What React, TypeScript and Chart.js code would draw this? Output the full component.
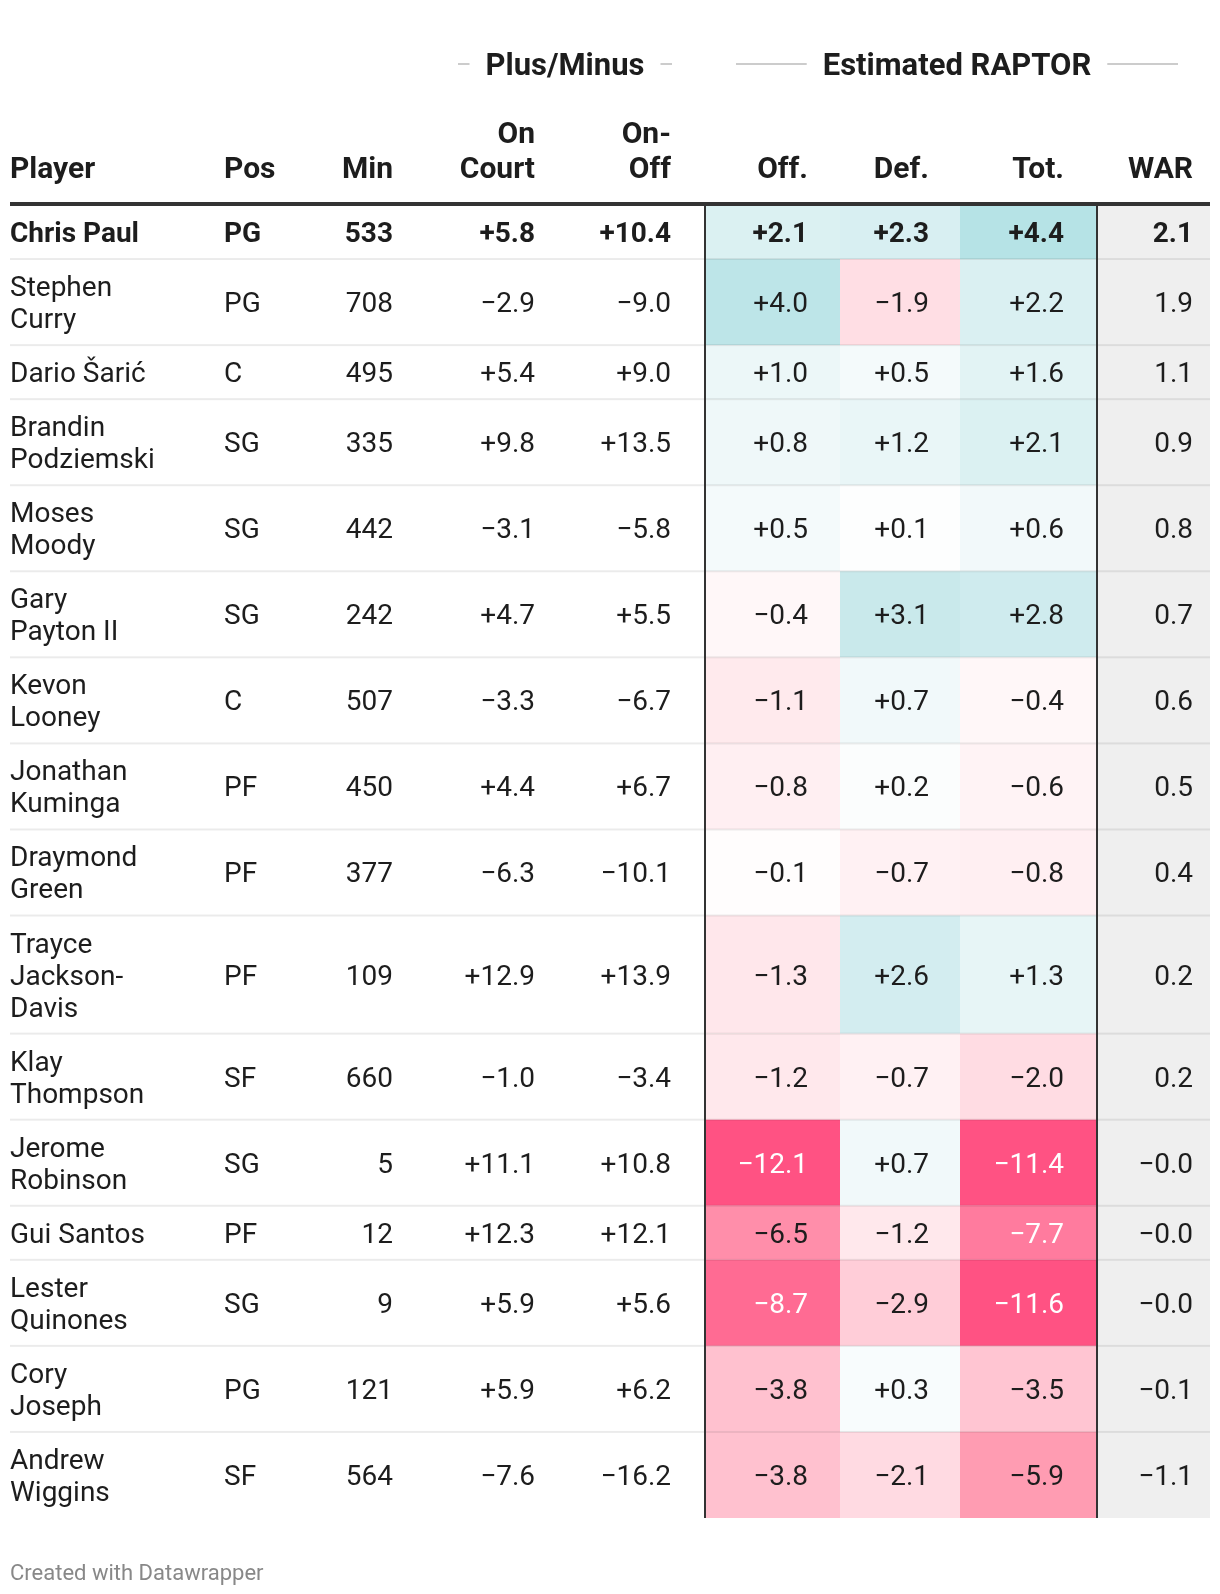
import React, { useEffect, useRef } from 'react';
import { Chart, registerables } from 'chart.js';

Chart.register(...registerables);

// ---------- DATA ----------
const players = [
  'Chris Paul',
  'Stephen\nCurry',
  'Dario Šarić',
  'Brandin\nPodziemski',
  'Moses\nMoody',
  'Gary\nPayton II',
  'Kevon\nLooney',
  'Jonathan\nKuminga',
  'Draymond\nGreen',
  'Trayce\nJackson-\nDavis',
  'Klay\nThompson',
  'Jerome\nRobinson',
  'Gui Santos',
  'Lester\nQuinones',
  'Cory\nJoseph',
  'Andrew\nWiggins',
];
const positions = ['PG', 'PG', 'C', 'SG', 'SG', 'SG', 'C', 'PF', 'PF', 'PF', 'SF', 'SG', 'PF', 'SG', 'PG', 'SF'];
const minutes = [533, 708, 495, 335, 442, 242, 507, 450, 377, 109, 660, 5, 12, 9, 121, 564];
const onCourt = [5.8, -2.9, 5.4, 9.8, -3.1, 4.7, -3.3, 4.4, -6.3, 12.9, -1.0, 11.1, 12.3, 5.9, 5.9, -7.6];
const onOff = [10.4, -9.0, 9.0, 13.5, -5.8, 5.5, -6.7, 6.7, -10.1, 13.9, -3.4, 10.8, 12.1, 5.6, 6.2, -16.2];
const raptorOff = [2.1, 4.0, 1.0, 0.8, 0.5, -0.4, -1.1, -0.8, -0.1, -1.3, -1.2, -12.1, -6.5, -8.7, -3.8, -3.8];
const raptorDef = [2.3, -1.9, 0.5, 1.2, 0.1, 3.1, 0.7, 0.2, -0.7, 2.6, -0.7, 0.7, -1.2, -2.9, 0.3, -2.1];
const raptorTot = [4.4, 2.2, 1.6, 2.1, 0.6, 2.8, -0.4, -0.6, -0.8, 1.3, -2.0, -11.4, -7.7, -11.6, -3.5, -5.9];
const war = [2.1, 1.9, 1.1, 0.9, 0.8, 0.7, 0.6, 0.5, 0.4, 0.2, 0.2, -0.0, -0.0, -0.0, -0.1, -1.1];

const columnHeaders = ['Player', 'Pos', 'Min', 'On\nCourt', 'On-\nOff', 'Off.', 'Def.', 'Tot.', 'WAR'];
const groupLabels = ['Plus/Minus', 'Estimated RAPTOR'];
const footerText = 'Created with Datawrapper';

// ---------- LAYOUT / STYLE ----------
const W = 1220;
const H = 1594;
const TABLE_W = 1200;
const PAD = { left: 10, right: 10, top: 205, bottom: 76 };
const LINE_H = 32;
const ROW_PAD = 22;
const FONT = 'Roboto';
const BODY_SIZE = 28;
const HEAD_SIZE = 30;
const HEAD_LINE_H = 35.5;
const GROUP_SIZE = 31;
const TEXT = '#1d1d1d';
// column anchor positions in table units (x-scale)
const COLS = [
  { anchor: 0, align: 'left' },
  { anchor: 214, align: 'left' },
  { anchor: 383, align: 'right' },
  { anchor: 525, align: 'right' },
  { anchor: 661, align: 'right' },
  { anchor: 798, align: 'right' },
  { anchor: 919, align: 'right' },
  { anchor: 1054, align: 'right' },
  { anchor: 1183, align: 'right' },
];
const HEAT_EDGES = [695, 830, 950, 1087];
const WAR_EDGES = [1087, 1200];
const GROUP_SPANS = [
  [448, 662],
  [726, 1168],
];
const COLOR_STOPS: [number, string][] = [
  [-11.4, '#ff5283'],
  [-8.7, '#ff6b93'],
  [-7.7, '#ff7b9e'],
  [-6.5, '#ff8eaa'],
  [-5.9, '#ff9cb2'],
  [-3.8, '#ffc1cf'],
  [-2.9, '#ffcdd8'],
  [-2.0, '#ffdce3'],
  [-1.2, '#ffe8ec'],
  [-0.7, '#fff1f3'],
  [0, '#ffffff'],
  [0.5, '#f4fafb'],
  [1.0, '#ecf7f8'],
  [1.6, '#e2f3f4'],
  [2.2, '#daf0f2'],
  [2.6, '#d3edf0'],
  [3.1, '#c9e9eb'],
  [4.0, '#bde5e8'],
  [4.4, '#b6e3e6'],
];

function hexToRgb(h: string) {
  const n = parseInt(h.slice(1), 16);
  return [(n >> 16) & 255, (n >> 8) & 255, n & 255];
}
function heatColor(v: number) {
  if (v <= COLOR_STOPS[0][0]) return COLOR_STOPS[0][1];
  const last = COLOR_STOPS[COLOR_STOPS.length - 1];
  if (v >= last[0]) return last[1];
  for (let i = 0; i < COLOR_STOPS.length - 1; i++) {
    const [a, ca] = COLOR_STOPS[i];
    const [b, cb] = COLOR_STOPS[i + 1];
    if (v >= a && v <= b) {
      const t = (v - a) / (b - a);
      const A = hexToRgb(ca);
      const B = hexToRgb(cb);
      const c = A.map((x, k) => Math.round(x + (B[k] - x) * t));
      return `rgb(${c[0]},${c[1]},${c[2]})`;
    }
  }
  return '#ffffff';
}
const isNeg = (v: number) => v < 0 || Object.is(v, -0);
const fmtSigned = (v: number) => (v > 0 ? '+' + v.toFixed(1) : isNeg(v) ? '\u2212' + Math.abs(v).toFixed(1) : v.toFixed(1));
const fmtPlain = (v: number) => (isNeg(v) ? '\u2212' + Math.abs(v).toFixed(1) : v.toFixed(1));

// row geometry in y-scale units
const rowLines = players.map((p) => p.split('\n').length);
const rowStarts: number[] = [];
let acc = 0;
rowLines.forEach((l) => {
  rowStarts.push(acc);
  acc += ROW_PAD + LINE_H * l;
});
const TOTAL = acc;

const tablePlugin = {
  id: 'tablePlugin',
  afterDraw(chart: any) {
    const { ctx } = chart;
    const xs = chart.scales.x;
    const ys = chart.scales.y;
    const px = (u: number) => xs.getPixelForValue(u);
    const py = (u: number) => ys.getPixelForValue(u);
    const top = py(0);
    const bottom = py(TOTAL);
    ctx.save();

    // WAR column background
    ctx.fillStyle = '#efefef';
    ctx.fillRect(px(WAR_EDGES[0]), top, px(WAR_EDGES[1]) - px(WAR_EDGES[0]), bottom - top);

    // heat cells
    const heat = [raptorOff, raptorDef, raptorTot];
    players.forEach((_, i) => {
      const y0 = py(rowStarts[i]);
      const y1 = py(rowStarts[i] + ROW_PAD + LINE_H * rowLines[i]);
      heat.forEach((arr, c) => {
        ctx.fillStyle = heatColor(arr[i]);
        const x0 = px(HEAT_EDGES[c]);
        const x1 = px(HEAT_EDGES[c + 1]);
        ctx.fillRect(x0, y0, x1 - x0, y1 - y0);
      });
    });

    // row separators
    ctx.fillStyle = 'rgba(0,0,0,0.08)';
    for (let i = 1; i < players.length; i++) {
      const yb = py(rowStarts[i]);
      ctx.fillRect(px(0), yb - 1, px(TABLE_W) - px(0), 2);
    }

    // vertical rules
    ctx.fillStyle = '#333333';
    [HEAT_EDGES[0], WAR_EDGES[0]].forEach((e) => {
      ctx.fillRect(px(e) - 1, top - 2, 2, bottom - top + 2);
    });

    // header rule
    ctx.fillRect(px(0), top - 3, px(TABLE_W) - px(0), 4);

    // body text
    ctx.textBaseline = 'alphabetic';
    players.forEach((name, i) => {
      const bold = i === 0;
      const mid = (py(rowStarts[i]) + py(rowStarts[i] + ROW_PAD + LINE_H * rowLines[i])) / 2;
      const cells = [
        name,
        positions[i],
        String(minutes[i]),
        fmtSigned(onCourt[i]),
        fmtSigned(onOff[i]),
        fmtSigned(raptorOff[i]),
        fmtSigned(raptorDef[i]),
        fmtSigned(raptorTot[i]),
        fmtPlain(war[i]),
      ];
      const heatVals = [null, null, null, null, null, raptorOff[i], raptorDef[i], raptorTot[i], null];
      cells.forEach((txt, c) => {
        const col = COLS[c];
        ctx.font = `${bold ? 'bold ' : ''}${BODY_SIZE}px ${FONT}`;
        ctx.textAlign = col.align;
        const hv = heatVals[c];
        ctx.fillStyle = hv !== null && hv <= -7 ? '#ffffff' : TEXT;
        const lines = txt.split('\n');
        lines.forEach((ln, k) => {
          const cy = mid + (k - (lines.length - 1) / 2) * LINE_H;
          ctx.fillText(ln, px(col.anchor), cy + 0.355 * BODY_SIZE);
        });
      });
    });

    // column headers
    ctx.font = `bold ${HEAD_SIZE}px ${FONT}`;
    ctx.fillStyle = TEXT;
    const headBase = top - 27;
    columnHeaders.forEach((h, c) => {
      const col = COLS[c];
      ctx.textAlign = col.align;
      const lines = h.split('\n');
      lines.forEach((ln, k) => {
        ctx.fillText(ln, px(col.anchor), headBase - (lines.length - 1 - k) * HEAD_LINE_H);
      });
    });

    // group headers
    ctx.font = `bold ${GROUP_SIZE}px ${FONT}`;
    ctx.textAlign = 'center';
    const groupBase = top - 130.5;
    const groupLineY = top - 141;
    groupLabels.forEach((g, gi) => {
      const [a, b] = GROUP_SPANS[gi];
      const xa = px(a);
      const xb = px(b);
      const cx = (xa + xb) / 2;
      const w = ctx.measureText(g).width;
      ctx.fillStyle = TEXT;
      ctx.fillText(g, cx, groupBase);
      ctx.fillStyle = '#cccccc';
      ctx.fillRect(xa, groupLineY - 1, cx - w / 2 - 16 - xa, 2);
      ctx.fillRect(cx + w / 2 + 16, groupLineY - 1, xb - (cx + w / 2 + 16), 2);
    });

    // footer
    ctx.font = `22px ${FONT}`;
    ctx.fillStyle = '#888888';
    ctx.textAlign = 'left';
    ctx.fillText(footerText, px(0), bottom + 62);

    ctx.restore();
  },
};

export default function App() {
  const ref = useRef<HTMLCanvasElement | null>(null);
  useEffect(() => {
    document.body.style.margin = '0';
    document.body.style.overflow = 'hidden';
    const canvas = ref.current;
    if (!canvas) return;
    const centers = [762, 890, 1018];
    const heat = [raptorOff, raptorDef, raptorTot];
    const datasets = heat.map((arr, c) => ({
      label: ['Off.', 'Def.', 'Tot.'][c],
      data: arr.map((v, i) => ({ x: centers[c], y: rowStarts[i] + (ROW_PAD + LINE_H * rowLines[i]) / 2, v })),
      pointRadius: 0,
      showLine: false,
    }));
    const chart = new Chart(canvas, {
      type: 'scatter',
      data: { datasets },
      options: {
        responsive: false,
        animation: false,
        devicePixelRatio: 1,
        layout: { padding: PAD },
        plugins: { legend: { display: false }, tooltip: { enabled: false } },
        scales: {
          x: { type: 'linear', min: 0, max: TABLE_W, display: false },
          y: { type: 'linear', min: 0, max: TOTAL, reverse: true, display: false },
        },
      },
      plugins: [tablePlugin],
    } as any);
    if ((document as any).fonts) {
      Promise.all([
        document.fonts.load(`${BODY_SIZE}px ${FONT}`),
        document.fonts.load(`bold ${BODY_SIZE}px ${FONT}`),
      ]).then(() => chart.draw()).catch(() => {});
    }
    return () => chart.destroy();
  }, []);
  return (
    <div style={{ width: W, height: H, background: '#ffffff' }}>
      <canvas ref={ref} width={W} height={H} style={{ display: 'block', width: W, height: H }} />
    </div>
  );
}
